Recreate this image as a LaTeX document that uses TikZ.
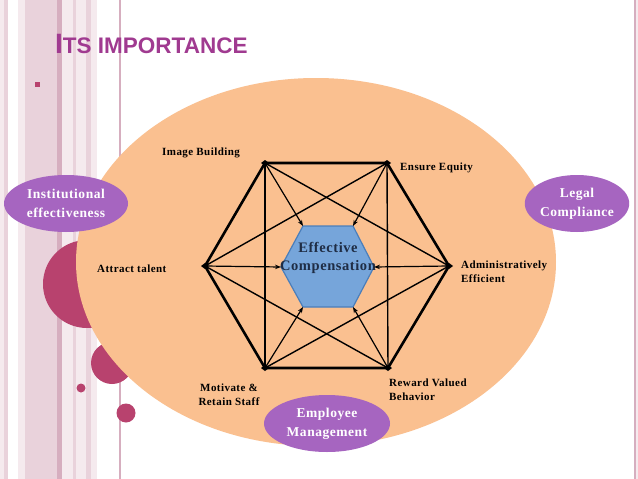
\documentclass[tikz,border=0pt]{standalone}
\usepackage{fontspec}
\setmainfont{Liberation Serif}
\newfontfamily\titlefont{Liberation Sans}
\newfontfamily\lblfont[LetterSpace=4]{Liberation Serif}
\usetikzlibrary{shapes.geometric,arrows.meta}
\definecolor{peach}{HTML}{FAC090}
\definecolor{ellpurple}{HTML}{A665C0}
\definecolor{crimson}{HTML}{B8426E}
\definecolor{hexfill}{HTML}{76A5DA}
\definecolor{hexline}{HTML}{4A7EBB}
\definecolor{centertext}{HTML}{1F2D45}
\definecolor{titlecol}{HTML}{A03A90}
\definecolor{stripeL}{HTML}{F5EAEE}
\definecolor{stripeM}{HTML}{E9D2DB}
\definecolor{stripeD}{HTML}{D6AEBF}
\tikzset{
  lbl/.style={font=\lblfont\bfseries\fontsize{11}{14}\selectfont, text=black, inner sep=0pt},
  pell/.style={ellipse, fill=ellpurple, inner sep=0pt, align=center, text=white,
     font=\lblfont\bfseries\fontsize{13.5}{19}\selectfont},
  hexedge/.style={line width=2.6pt, line join=round},
  inner/.style={line width=1.4pt},
  arr/.style={line width=1.2pt, -{Stealth[length=6pt,width=4.5pt]}},
}
\begin{document}
\begin{tikzpicture}[x=1pt,y=-1pt]
\useasboundingbox (0,0) rectangle (638,479);
\fill[white] (0,0) rectangle (638,479);
% left stripes
\fill[stripeL] (0,0) rectangle (4,479);
\fill[stripeM] (4,0) rectangle (8,479);
\fill[stripeL] (18,0) rectangle (25,479);
\fill[stripeM] (25,0) rectangle (57,479);
\fill[stripeD] (57,0) rectangle (62,479);
\fill[stripeL] (62,0) rectangle (73,479);
\fill[stripeM] (73,0) rectangle (76,479);
\fill[stripeL] (76,0) rectangle (86,479);
\fill[stripeM] (86,0) rectangle (91,479);
\fill[stripeL] (91,0) rectangle (97,479);
\fill[stripeD] (118.5,0) rectangle (120.5,479);
% right stripes
\fill[stripeD] (633.5,0) rectangle (635.5,479);
\fill[stripeL] (635.5,0) rectangle (638,479);
% bullet
\fill[crimson] (34.5,81.5) rectangle (39.5,86.5);
% title
\node[anchor=base west, inner sep=0pt, text=titlecol] (title) at (55,53)
  {\titlefont\bfseries\fontsize{28}{28}\selectfont I\fontsize{22.5}{22.5}\selectfont TS IMPORTANCE};
% crimson circles
\fill[crimson] (87,284) circle (44);
\fill[crimson] (112,363) circle (21);
\fill[crimson] (81,388) circle (4.5);
\fill[crimson] (126,413) circle (9.5);
% peach ellipse
\fill[peach] (316,262) ellipse [x radius=240, y radius=184];
% coordinates
\coordinate (oTL) at (265,163);
\coordinate (oTR) at (387,163);
\coordinate (oR)  at (449,266);
\coordinate (oBR) at (388,368);
\coordinate (oBL) at (265,368);
\coordinate (oL)  at (205,266);
\coordinate (cTL) at (303,226);
\coordinate (cTR) at (353,226);
\coordinate (cR)  at (374,267);
\coordinate (cBR) at (353,307);
\coordinate (cBL) at (303,307);
\coordinate (cL)  at (281,267);
% inner lines
\draw[inner] (oTL) -- (oBL);
\draw[inner] (oTR) -- (oBR);
\draw[inner] (oTL) -- (oR);
\draw[inner] (oTR) -- (oL);
\draw[inner] (oBL) -- (oR);
\draw[inner] (oBR) -- (oL);
% outer hexagon
\draw[hexedge] (oTL) -- (oTR) -- (oR) -- (oBR) -- (oBL) -- (oL) -- cycle;
% center hexagon
\draw[fill=hexfill, draw=hexline, line width=1.2pt, line join=miter]
  (cTL) -- (cTR) -- (cR) -- (cBR) -- (cBL) -- (cL) -- cycle;
\node[align=center, inner sep=0pt, text=centertext,
  font=\lblfont\bfseries\fontsize{14.5}{18}\selectfont] (ec) at (328,258)
  {Effective\\Compensation};
% arrows
\draw[arr] (oTL) -- (cTL);
\draw[arr] (oTR) -- (cTR);
\draw[arr] (oR) -- (cR);
\draw[arr] (oBR) -- (cBR);
\draw[arr] (oBL) -- (cBL);
\draw[arr] (oL) -- (cL);
% vertex markers
\foreach \v in {oTL,oTR,oR,oBR,oBL,oL}
  \fill[black] (\v) ++(-4,0) -- ++(4,-3) -- ++(4,3) -- ++(-4,3) -- cycle;
% labels
\node[lbl, anchor=west] (ib) at (162,153) {Image Building};
\node[lbl, anchor=west] (ee) at (400,168) {Ensure Equity};
\node[lbl, anchor=west, align=left] (ae) at (461,271.5) {Administratively\\Efficient};
\node[lbl, anchor=west] (at) at (97,269) {Attract talent};
\node[lbl, align=center] (ms) at (229,394.5) {Motivate \&\\Retain Staff};
\node[lbl, anchor=west, align=left] (rv) at (389,389.5) {Reward Valued\\Behavior};
% purple ellipses
\node[pell, minimum width=124pt, minimum height=57pt] (ie) at (66,203.5) {Institutional\\effectiveness};
\node[pell, minimum width=104pt, minimum height=57pt] (lc) at (577,203.5) {Legal\\Compliance};
\node[pell, minimum width=126pt, minimum height=57pt] (em) at (327,423.5) {Employee\\Management};
\end{tikzpicture}
\end{document}
